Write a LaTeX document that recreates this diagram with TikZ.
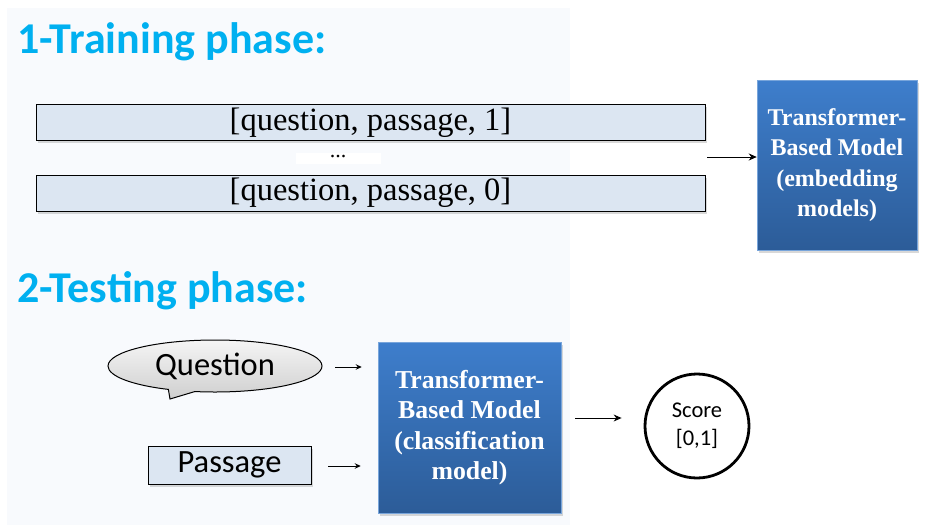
\documentclass[tikz,border=0pt]{standalone}
\usepackage{fontspec}
\setmainfont{Liberation Serif}
\newfontfamily\calibri{Carlito}
\usetikzlibrary{arrows.meta,shapes.callouts,shapes.geometric,shadows}

\definecolor{titleblue}{RGB}{0,176,240}
\definecolor{bartint}{RGB}{220,230,242}
\definecolor{modeltop}{RGB}{62,126,204}
\definecolor{modelbot}{RGB}{44,92,152}
\definecolor{panel}{RGB}{248,250,253}

\tikzset{
  phasetitle/.style={anchor=base west, inner sep=0pt, text=titleblue,
    font=\calibri\bfseries\fontsize{44}{50}\selectfont},
  pairbar/.style={draw=black, line width=1pt, fill=bartint,
    minimum width=669pt, minimum height=36pt, inner sep=0pt,
    font=\fontsize{32.5}{34}\selectfont,
    drop shadow={shadow xshift=1.5pt, shadow yshift=-2.5pt, opacity=0.3}},
  modelbox/.style={rectangle, top color=modeltop, bottom color=modelbot,
    draw=modeltop!70!white, line width=0.5pt, text=white, align=center,
    inner sep=0pt,
    drop shadow={shadow xshift=2pt, shadow yshift=-3pt, opacity=0.3}},
  inbox/.style={draw=black, line width=1pt, fill=bartint,
    minimum width=163pt, minimum height=38pt, inner sep=0pt,
    font=\calibri\fontsize{32.5}{34}\selectfont,
    drop shadow={shadow xshift=1.5pt, shadow yshift=-2.5pt, opacity=0.3}},
  arr/.style={-{Stealth[length=8pt,width=7pt]}, line width=1pt, black},
  smallarr/.style={-{Stealth[length=6pt,width=5.5pt]}, line width=1pt, black},
}

\begin{document}
\begin{tikzpicture}[x=1pt,y=-1pt]
  \useasboundingbox (0,0) rectangle (931,525);
  \fill[white] (0,0) rectangle (931,525);
  \fill[panel] (7,8) rectangle (570,525);

  % training phase
  \node[phasetitle] (t1) at (17,53) {1-Training phase:};
  \node[pairbar] (bar1) at (370.5,122.5) {[question, passage, 1]};
  \node[fill=white, minimum width=85pt, minimum height=11pt, inner sep=0pt,
        font=\fontsize{22}{24}\selectfont] (dots) at (338,158) {\raisebox{3pt}{...}};
  \node[pairbar] (bar2) at (370.5,193) {[question, passage, 0]};

  \node[modelbox, minimum width=160pt, minimum height=170pt,
        font=\bfseries\fontsize{24}{30.5}\selectfont] (emb) at (837,165)
    {Transformer-\\Based Model\\(embedding\\models)};
  \coordinate (tin) at (707,157);
  \draw[arr] (tin) -- (tin -| emb.west);

  % testing phase
  \node[phasetitle] (t2) at (17,302) {2-Testing phase:};

  \node[ellipse callout, draw=black, line width=1pt,
        top color=gray!8, bottom color=gray!38,
        minimum width=214pt, minimum height=52pt, inner sep=0pt,
        callout absolute pointer={(170,399)},
        font=\calibri\fontsize{32.5}{34}\selectfont] (q) at (215,366) {Question};
  \node[inbox] (pas) at (229.5,465) {Passage};

  \node[modelbox, minimum width=183pt, minimum height=171pt,
        font=\bfseries\fontsize{25.8}{30.5}\selectfont] (cls) at (469.5,427.5)
    {Transformer-\\Based Model\\(classification\\model)};

  \coordinate (qa) at (335,367);
  \draw[smallarr] (qa) -- ([xshift=-16pt]qa -| cls.west);
  \coordinate (pa) at (328,466);
  \draw[smallarr] (pa) -- ([xshift=-17pt]pa -| cls.west);

  \node[circle, draw=black, line width=2.8pt, fill=white,
        minimum size=104pt, inner sep=0pt, align=center,
        font=\calibri\fontsize{22.5}{28}\selectfont] (score) at (697,426) {Score\\{[0,1]}};
  \coordinate (sa) at (575,418);
  \draw[arr] (sa) -- ([xshift=-22pt]sa -| score.west);
\end{tikzpicture}
\end{document}
